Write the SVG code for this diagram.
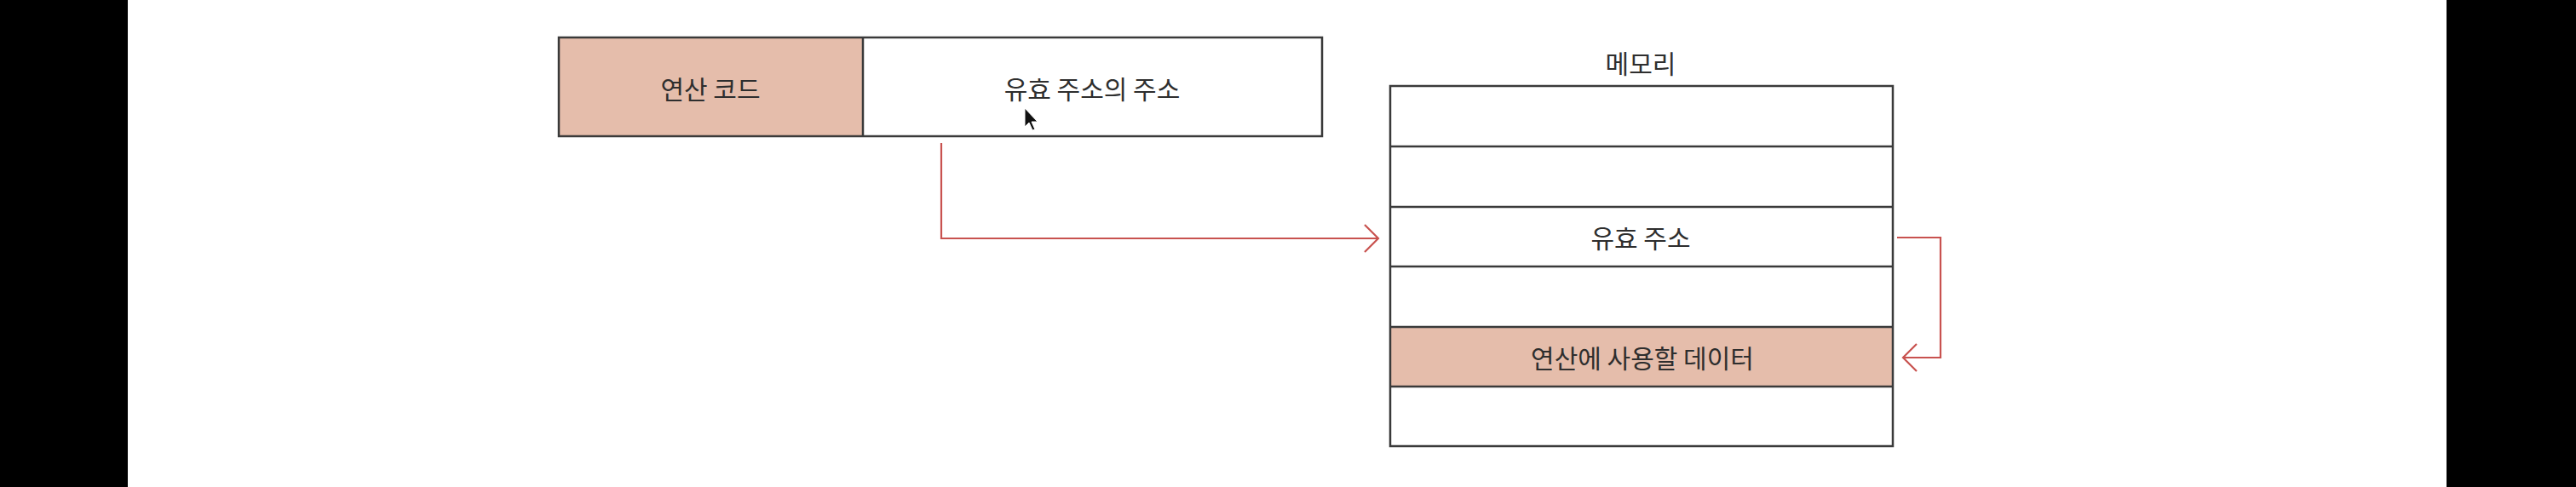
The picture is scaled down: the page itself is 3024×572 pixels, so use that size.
<svg xmlns="http://www.w3.org/2000/svg" width="3024" height="572" viewBox="0 0 3024 572">
  <style>
    .box { stroke: #3a3a3a; stroke-width: 2.5; }
    .fill { fill: #e5bdab; }
    .white { fill: #ffffff; }
    .line { stroke: #3a3a3a; stroke-width: 2.5; fill: none; }
    .lbl { font-family: "Noto Sans CJK KR", "Noto Sans", sans-serif; font-size: 30px; fill: #2e2e2e; text-anchor: middle; dominant-baseline: central; }
    .conn { stroke: #c8524f; stroke-width: 2.2; fill: none; stroke-linejoin: miter; }
  </style>
  <rect x="0" y="0" width="3024" height="572" fill="#ffffff"/>
  <rect x="0" y="0" width="150" height="572" fill="#000000"/>
  <rect x="2872" y="0" width="152" height="572" fill="#000000"/>

  <g id="instruction">
    <g id="opcode">
      <rect class="fill" x="656" y="44" width="357" height="116"/>
      <text class="lbl" x="834" y="103">연산 코드</text>
    </g>
    <g id="operand">
      <rect class="white" x="1013" y="44" width="539" height="116"/>
      <text class="lbl" x="1282" y="103">유효 주소의 주소</text>
    </g>
    <rect class="line" x="656" y="44" width="896" height="116"/>
    <line class="line" x1="1013" y1="44" x2="1013" y2="160"/>
  </g>

  <g id="memory">
    <text class="lbl" x="1926" y="73">메모리</text>
    <rect class="fill" x="1632" y="384" width="590" height="70"/>
    <rect class="line" x="1632" y="101" width="590" height="423"/>
    <line class="line" x1="1632" y1="172" x2="2222" y2="172"/>
    <line class="line" x1="1632" y1="243" x2="2222" y2="243"/>
    <line class="line" x1="1632" y1="313" x2="2222" y2="313"/>
    <line class="line" x1="1632" y1="384" x2="2222" y2="384"/>
    <line class="line" x1="1632" y1="454" x2="2222" y2="454"/>
    <g id="effective-address">
      <text class="lbl" x="1926" y="278">유효 주소</text>
    </g>
    <g id="operand-data">
      <text class="lbl" x="1928" y="419">연산에 사용할 데이터</text>
    </g>
  </g>

  <g id="connectors">
    <path class="conn" d="M1105 168 V280 H1618"/>
    <path class="conn" d="M1602 264 L1618 280 L1602 296"/>
    <path class="conn" d="M2227 279 H2278 V420 H2234"/>
    <path class="conn" d="M2250 404 L2234 420 L2250 436"/>
  </g>

  <g id="cursor">
    <path d="M1203 127 L1203 149 L1208 144 L1212 153 L1215 152 L1211 143 L1218 143 Z" fill="#111111" stroke="#ffffff" stroke-width="1"/>
  </g>
</svg>
